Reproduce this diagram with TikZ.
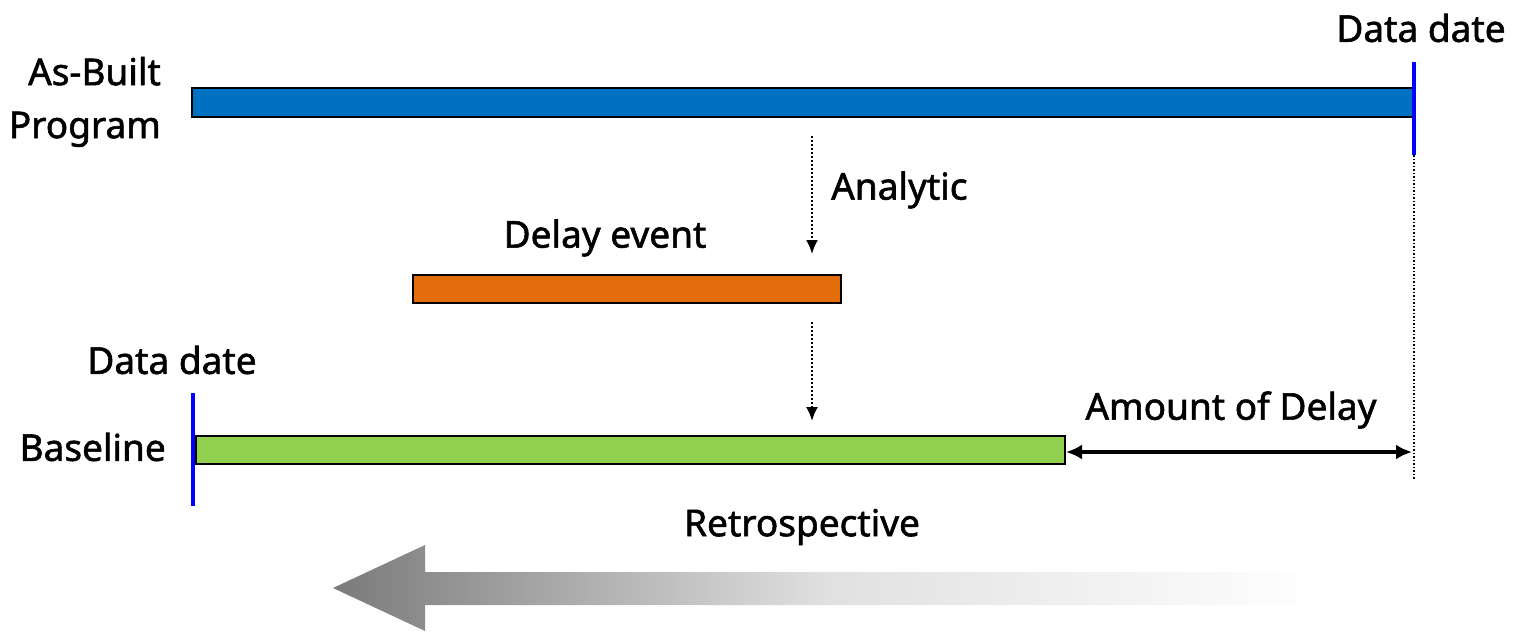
\documentclass[tikz,border=0pt]{standalone}
\usepackage{fontspec}
\setmainfont{Noto Sans}
\newfontfamily\lblfont{Noto Sans}[FakeBold=1.5]
\usetikzlibrary{arrows.meta}
\definecolor{abblue}{HTML}{0070C0}
\definecolor{evorange}{HTML}{E46C0A}
\definecolor{blgreen}{HTML}{92D050}
\definecolor{ddblue}{HTML}{0000FF}
\tikzset{
  bar/.style={draw=black, line width=2pt, inner sep=0pt, anchor=west},
  lbl/.style={font=\lblfont\fontsize{37}{53}\selectfont, inner sep=0pt},
  ddline/.style={draw=ddblue, line width=3.5pt},
  dotarrow/.style={draw=black, line width=2pt, dotted, -{Latex[length=14pt,width=12pt]}},
  dimarrow/.style={draw=black, line width=4pt, {Latex[length=16pt,width=15pt]}-{Latex[length=16pt,width=15pt]}},
}
\begin{document}
\begin{tikzpicture}[x=1pt,y=-1pt]
\useasboundingbox (0,0) rectangle (1514,632);
% bars
\node[bar, fill=abblue, minimum width=1222pt, minimum height=29pt] (asbuilt) at (191,102.5) {};
\node[bar, fill=evorange, minimum width=428pt, minimum height=28pt] (event) at (412,289) {};
\node[bar, fill=blgreen, minimum width=869pt, minimum height=28pt] (baseline) at (195,450) {};
% data date lines
\coordinate (ddtop) at (1414,62);
\coordinate (ddtopb) at (1414,155);
\coordinate (ddend) at (1414,480);
\draw[ddline] (ddtop) -- (ddtopb);
\draw[black, line width=1.5pt, dotted] (ddtopb) -- (ddend);
\coordinate (ddlow) at (193,393);
\coordinate (ddlowb) at (193,506);
\draw[ddline] (ddlow) -- (ddlowb);
% labels
\node[lbl, align=right, anchor=east] (asbuiltlbl) at (161,102) {As-Built\\Program};
\node[lbl] (dd1) at (1421,28) {Data date};
\node[lbl] (dd2) at (172,360) {Data date};
\node[lbl, anchor=east] (bllbl) at (166,447) {Baseline};
\node[lbl] (evlbl) at (605,238) {Delay event};
\node[lbl, anchor=west] (anlbl) at (831,190) {Analytic};
\node[lbl] (amlbl) at (1231,410) {Amount of Delay};
\node[lbl] (retlbl) at (802,527) {Retrospective};
% analytic arrows
\coordinate (a1s) at (812,136);
\coordinate (a1e) at (812,254);
\draw[dotarrow] (a1s) -- (a1e);
\coordinate (a2s) at (812,322);
\coordinate (a2e) at (812,421);
\draw[dotarrow] (a2s) -- (a2e);
% amount of delay
\coordinate (delayend) at (1412,452);
\draw[dimarrow] (baseline.east |- delayend) -- (delayend);
% retrospective arrow
\shade[left color=black!52, right color=white, middle color=black!12]
  (333,588) -- (425,545) -- (425,572) -- (1320,572) -- (1320,605) -- (425,605) -- (425,631) -- cycle;
\end{tikzpicture}
\end{document}
